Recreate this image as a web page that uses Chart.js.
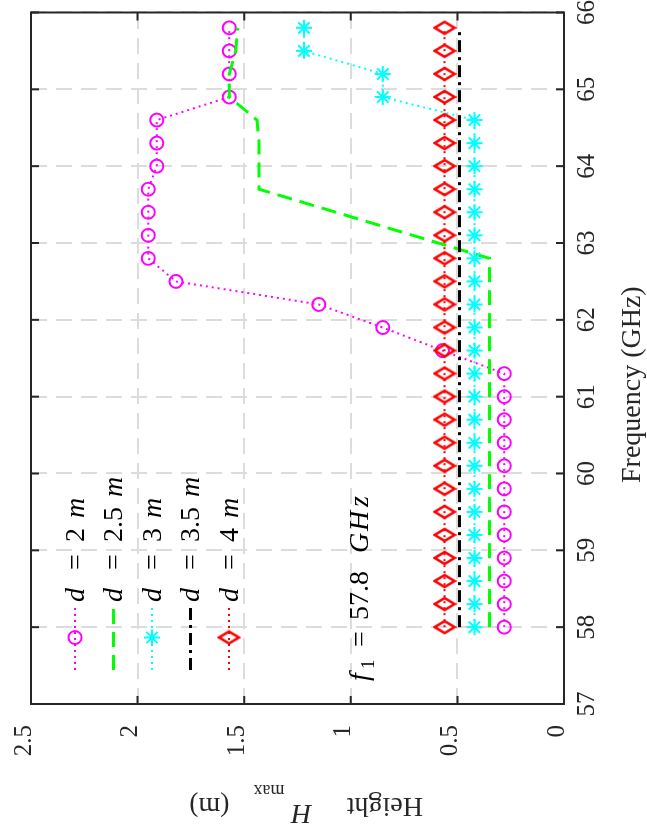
<!DOCTYPE html>
<html>
<head>
<meta charset="utf-8">
<script src="https://cdn.jsdelivr.net/npm/chart.js@4.4.1/dist/chart.umd.min.js"></script>
<style>
  html, body { margin: 0; padding: 0; background: #fff; overflow: hidden; }
  /* the figure is drawn landscape, then turned a quarter turn to the left */
  #wrap { position: absolute; left: 0; top: 0; width: 837px; height: 647px;
          transform-origin: 0 0; transform: translateY(837px) rotate(-90deg); background: #fff; }
</style>
</head>
<body>
<div id="wrap"><canvas id="chart" width="837" height="647"></canvas></div>
<script>
// ---- data ----
const freq = [58.0, 58.3, 58.6, 58.9, 59.2, 59.5, 59.8, 60.1, 60.4, 60.7, 61.0, 61.3, 61.6, 61.9,
              62.2, 62.5, 62.8, 63.1, 63.4, 63.7, 64.0, 64.3, 64.6, 64.9, 65.2, 65.5, 65.8];

const h_d2 = [0.28, 0.28, 0.28, 0.28, 0.28, 0.28, 0.28, 0.28, 0.28, 0.28, 0.28, 0.28, 0.57, 0.85,
              1.15, 1.82, 1.95, 1.95, 1.95, 1.95, 1.91, 1.91, 1.91, 1.57, 1.57, 1.57, 1.57];
const h_d25 = [0.35, 0.35, 0.35, 0.35, 0.35, 0.35, 0.35, 0.35, 0.35, 0.35, 0.35, 0.35, 0.35, 0.35,
               0.35, 0.35, 0.35, 0.71, 1.07, 1.43, 1.43, 1.43, 1.44, 1.57, 1.57, 1.54, 1.53];
const h_d3 = [0.42, 0.42, 0.42, 0.42, 0.42, 0.42, 0.42, 0.42, 0.42, 0.42, 0.42, 0.42, 0.42, 0.42,
              0.42, 0.42, 0.42, 0.42, 0.42, 0.42, 0.42, 0.42, 0.42, 0.85, 0.85, 1.22, 1.22];
const h_d35 = [0.49, 0.49, 0.49, 0.49, 0.49, 0.49, 0.49, 0.49, 0.49, 0.49, 0.49, 0.49, 0.49, 0.49,
               0.49, 0.49, 0.49, 0.49, 0.49, 0.49, 0.49, 0.49, 0.49, 0.49, 0.49, 0.49, 0.49];
const h_d4 = [0.56, 0.56, 0.56, 0.56, 0.56, 0.56, 0.56, 0.56, 0.56, 0.56, 0.56, 0.56, 0.56, 0.56,
              0.56, 0.56, 0.56, 0.56, 0.56, 0.56, 0.56, 0.56, 0.56, 0.56, 0.56, 0.56, 0.56];

const distances = ['2', '2.5', '3', '3.5', '4'];
const freqTicks = [57, 58, 59, 60, 61, 62, 63, 64, 65, 66];
const heightTicks = [0, 0.5, 1, 1.5, 2, 2.5];

const SERIF = "'Liberation Serif', 'Times New Roman', serif";
const INK = '#262626';

// MATLAB style diamond (taller than wide)
const diamond = document.createElement('canvas');
diamond.width = 16; diamond.height = 24;
(() => {
    const c = diamond.getContext('2d');
    c.strokeStyle = '#ff0000';
    c.lineWidth = 2.5;
    c.beginPath();
    c.moveTo(8, 2); c.lineTo(14, 12); c.lineTo(8, 22); c.lineTo(2, 12); c.closePath();
    c.stroke();
})();

const pts = vals => freq.map((f, i) => ({ x: f, y: vals[i] }));

// small helper: draw a run of text pieces [text, font, gapBefore, dy]
function drawRun(ctx, parts, x, y) {
    parts.forEach(([txt, font, gap, dy]) => {
        x += gap || 0;
        ctx.font = font;
        ctx.fillText(txt, x, y + (dy || 0));
        x += ctx.measureText(txt).width;
    });
    return x;
}

const decorations = {
    id: 'decorations',
    afterDatasetsDraw(chart) {
        const { ctx, chartArea: a, scales: { x, y } } = chart;
        ctx.save();
        ctx.setLineDash([]);
        ctx.strokeStyle = INK;
        ctx.lineWidth = 2;
        // inner ticks on all four sides
        ctx.beginPath();
        freqTicks.forEach(f => {
            const px = x.getPixelForValue(f);
            ctx.moveTo(px, a.bottom); ctx.lineTo(px, a.bottom - 8);
            ctx.moveTo(px, a.top); ctx.lineTo(px, a.top + 8);
        });
        heightTicks.forEach(h => {
            const py = y.getPixelForValue(h);
            ctx.moveTo(a.left, py); ctx.lineTo(a.left + 8, py);
            ctx.moveTo(a.right, py); ctx.lineTo(a.right - 8, py);
        });
        ctx.stroke();
        ctx.strokeRect(a.left, a.top, a.right - a.left, a.bottom - a.top);
        ctx.restore();
    },
    afterDraw(chart) {
        const { ctx } = chart;
        ctx.save();
        ctx.fillStyle = '#000';
        ctx.textBaseline = 'alphabetic';
        ctx.textAlign = 'left';

        // legend
        chart.data.datasets.forEach((ds, i) => {
            const v = 75 + i * 38.5;
            ctx.save();
            ctx.strokeStyle = ds.borderColor;
            ctx.lineWidth = ds.borderWidth;
            ctx.setLineDash(ds.borderDash || []);
            ctx.beginPath();
            ctx.moveTo(167, v); ctx.lineTo(232, v);
            ctx.stroke();
            ctx.setLineDash([]);
            if (ds.pointRadius > 0) {
                ctx.strokeStyle = ds.pointBorderColor;
                ctx.fillStyle = 'rgba(0,0,0,0)';
                ctx.lineWidth = ds.pointBorderWidth;
                Chart.helpers.drawPoint(ctx, {
                    pointStyle: ds.pointStyle, radius: ds.pointRadius,
                    borderWidth: ds.pointBorderWidth, rotation: 0
                }, 199.5, v);
            }
            ctx.restore();
            ctx.fillStyle = '#000';
            ctx.font = 'italic 28px ' + SERIF;
            ctx.fillText('d', 235, v + 8.5);
            ctx.font = '28px ' + SERIF;
            ctx.fillText('=', 267, v + 8.5);
            const end = drawRun(ctx, [[distances[i], '28px ' + SERIF, 0]], 295, v + 8.5);
            ctx.font = 'italic 28px ' + SERIF;
            ctx.fillText('m', end + 10, v + 8.5);
        });

        // annotation f1 = 57.8 GHz
        ctx.font = 'italic 28px ' + SERIF;
        ctx.fillText('f', 156, 368);
        ctx.font = '19px ' + SERIF;
        ctx.fillText('1', 168, 374);
        ctx.font = '28px ' + SERIF;
        ctx.fillText('=', 190, 368);
        ctx.fillText('57.8', 217, 368);
        ctx.font = 'italic 28px ' + SERIF;
        ctx.fillText('G', 284, 368);
        ctx.fillText('H', 306, 368);
        ctx.fillText('z', 330, 368);

        // x axis title
        ctx.fillStyle = INK;
        ctx.font = '28px ' + SERIF;
        ctx.fillText('Frequency (GHz)', 354, 640);

        // y axis title, rotated
        ctx.translate(39, 423);
        ctx.rotate(-Math.PI / 2);
        drawRun(ctx, [
            ['Height', '28px ' + SERIF, 0],
            ['H', 'italic 28px ' + SERIF, 35, -7],
            ['max', '18px ' + SERIF, 7, 13],
            ['(m)', '28px ' + SERIF, 24]
        ], 0, 0);
        ctx.restore();
    }
};

const tickFont = { family: SERIF, size: 25 };
const gridOpts = { color: '#dcdcdc', lineWidth: 2, drawTicks: false };

new Chart(document.getElementById('chart'), {
    type: 'line',
    data: {
        datasets: [
            { label: 'd = 2 m', data: pts(h_d2), borderColor: '#ff00ff', borderWidth: 2, borderDash: [2, 4],
              pointStyle: 'circle', pointRadius: 6.5, pointBorderWidth: 2, pointBorderColor: '#ff00ff',
              pointBackgroundColor: 'rgba(0,0,0,0)', order: 5 },
            { label: 'd = 2.5 m', data: pts(h_d25), borderColor: '#00ff00', borderWidth: 3, borderDash: [15, 8],
              pointRadius: 0, order: 4 },
            { label: 'd = 3 m', data: pts(h_d3), borderColor: '#00ffff', borderWidth: 2, borderDash: [2, 4],
              pointStyle: 'star', pointRadius: 8, pointBorderWidth: 2, pointBorderColor: '#00ffff',
              pointBackgroundColor: 'rgba(0,0,0,0)', order: 3 },
            { label: 'd = 3.5 m', data: pts(h_d35), borderColor: '#000000', borderWidth: 3, borderDash: [12, 5, 3, 5],
              pointRadius: 0, order: 2 },
            { label: 'd = 4 m', data: pts(h_d4), borderColor: '#ff0000', borderWidth: 2, borderDash: [2, 4],
              pointStyle: diamond, pointRadius: 10, pointBorderWidth: 2.5, pointBorderColor: '#ff0000',
              pointBackgroundColor: 'rgba(0,0,0,0)', order: 1 }
        ]
    },
    options: {
        responsive: false,
        animation: false,
        devicePixelRatio: 1,
        layout: { padding: { top: 31, right: 5, left: 0, bottom: 0 } },
        elements: { line: { tension: 0 } },
        plugins: { legend: { display: false }, tooltip: { enabled: false } },
        scales: {
            x: {
                type: 'linear', min: 57, max: 66,
                afterBuildTicks: s => { s.ticks = freqTicks.map(v => ({ value: v })); },
                afterFit: s => { s.height = 83; s.paddingLeft = 0; s.paddingRight = 0; },
                ticks: { font: tickFont, color: INK, padding: 8, maxRotation: 0, autoSkip: false,
                         callback: v => String(v) },
                grid: gridOpts,
                border: { display: false, dash: [16, 9] }
            },
            y: {
                type: 'linear', min: 0, max: 2.5,
                afterBuildTicks: s => { s.ticks = heightTicks.map(v => ({ value: v })); },
                afterFit: s => { s.width = 133; s.paddingTop = 0; s.paddingBottom = 0; },
                ticks: { font: tickFont, color: INK, padding: 21, labelOffset: -7, autoSkip: false,
                         callback: v => String(v) },
                grid: gridOpts,
                border: { display: false, dash: [16, 9] }
            }
        }
    },
    plugins: [decorations]
});
</script>
</body>
</html>
